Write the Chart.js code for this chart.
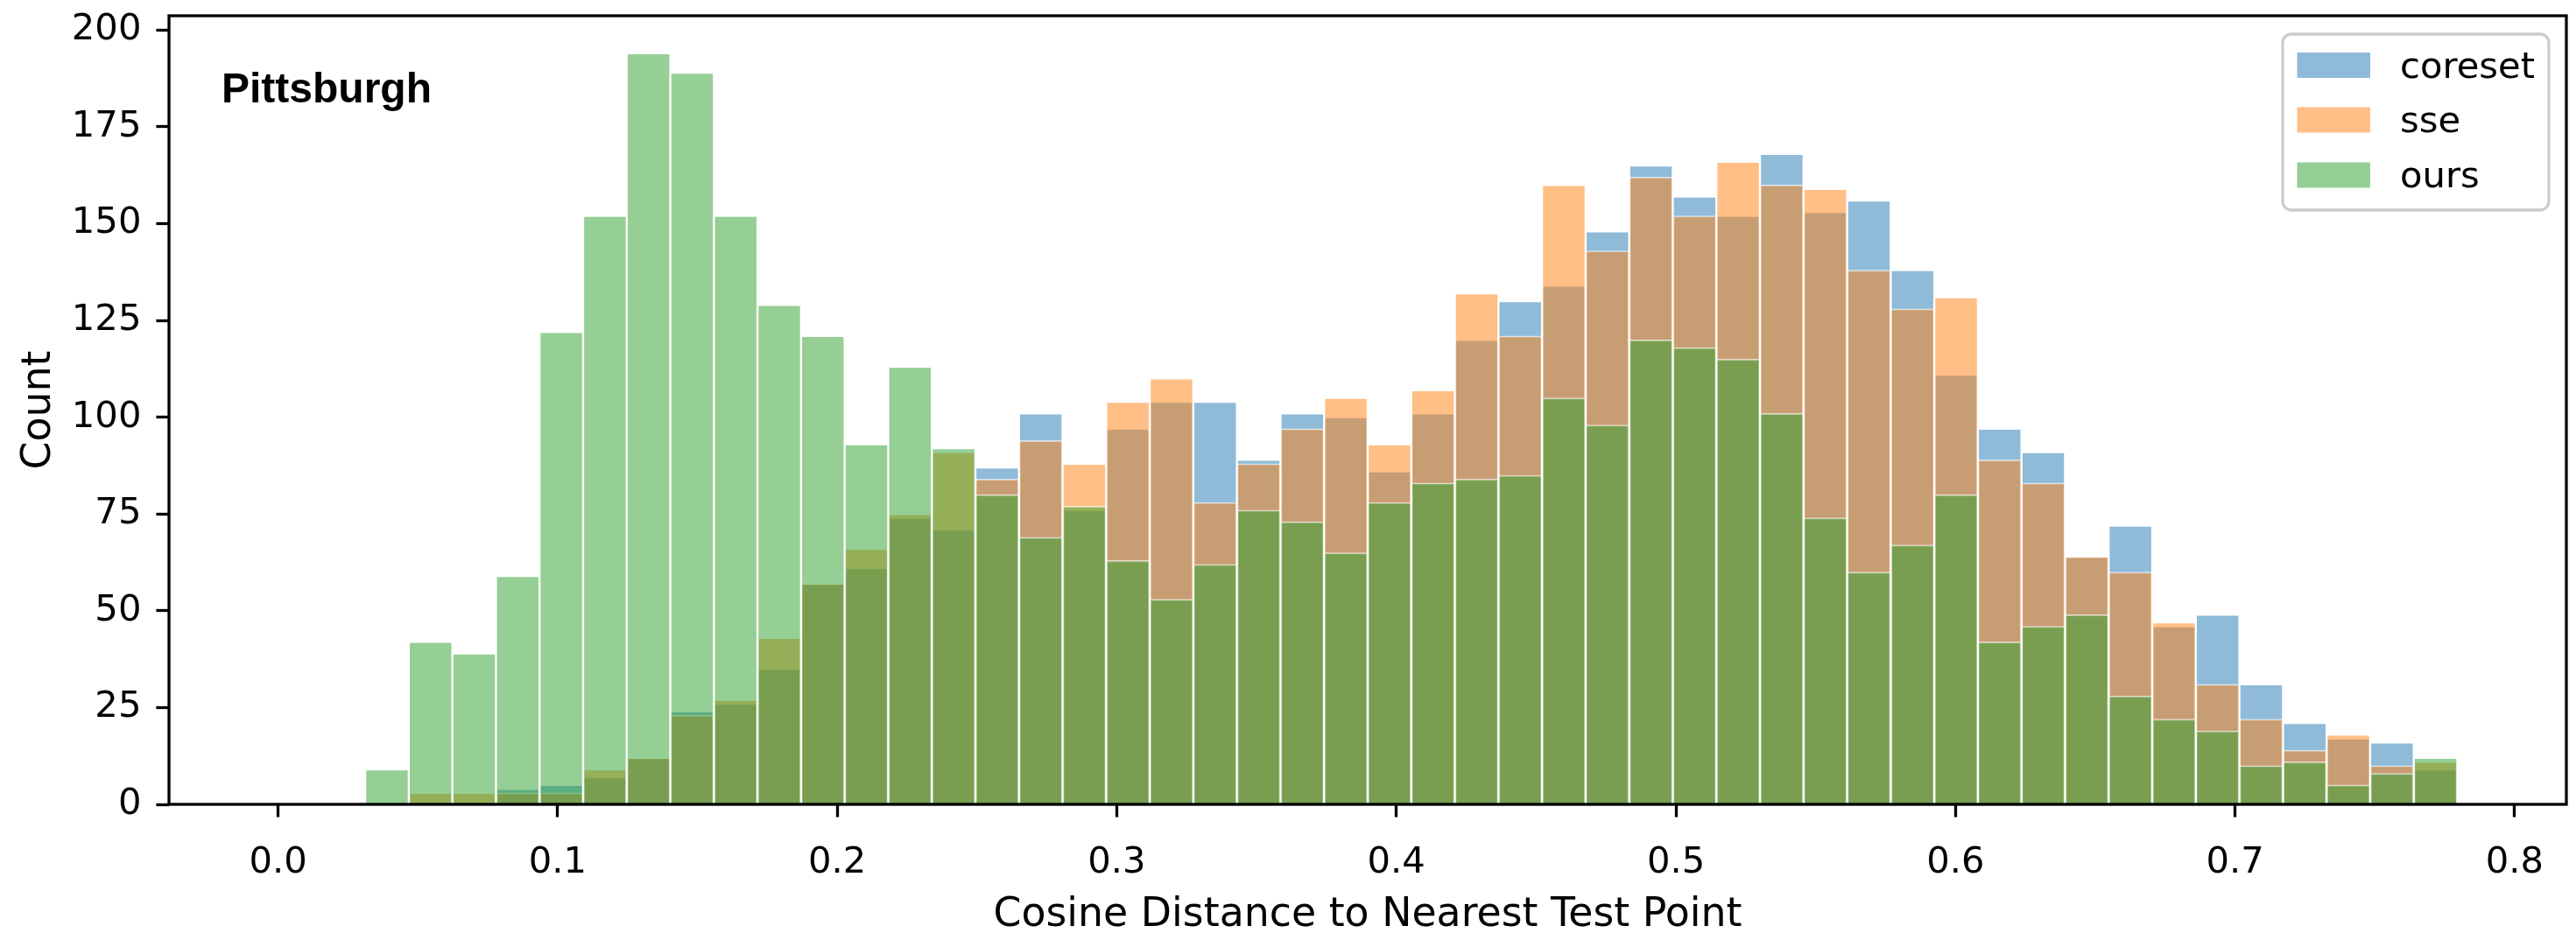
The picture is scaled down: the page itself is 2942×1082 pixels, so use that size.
<!DOCTYPE html>
<html>
<head>
<meta charset="utf-8">
<title>Pittsburgh - cosine distance histogram</title>
<script src="https://cdn.jsdelivr.net/npm/chart.js@4.4.1/dist/chart.umd.min.js"></script>
<style>
  html, body { margin: 0; padding: 0; background: #ffffff; }
  #wrap { width: 2942px; height: 1082px; }
</style>
</head>
<body>
<div id="wrap"><canvas id="histChart" width="2942" height="1082"></canvas></div>
<script>
// 50 equal bins from 0 to ~0.78
const binWidth = 0.01559;

const coreset = [
    0, 0, 0, 0, 0, 4, 5, 7, 12, 24,
    26, 35, 57, 61, 74, 71, 87, 101, 76, 97,
    104, 104, 89, 101, 100, 86, 101, 120, 130, 134,
    148, 165, 157, 152, 168, 153, 156, 138, 111, 97,
    91, 64, 72, 46, 49, 31, 21, 17, 16, 9
];
const sse = [
    0, 0, 0, 3, 3, 3, 3, 9, 12, 23,
    27, 43, 57, 66, 75, 91, 84, 94, 88, 104,
    110, 78, 88, 97, 105, 93, 107, 132, 121, 160,
    143, 162, 152, 166, 160, 159, 138, 128, 131, 89,
    83, 64, 60, 47, 31, 22, 14, 18, 10, 11
];
const ours = [
    0, 0, 9, 42, 39, 59, 122, 152, 194, 189,
    152, 129, 121, 93, 113, 92, 80, 69, 77, 63,
    53, 62, 76, 73, 65, 78, 83, 84, 85, 105,
    98, 120, 118, 115, 101, 74, 60, 67, 80, 42,
    46, 49, 28, 22, 19, 10, 11, 5, 8, 12
];

const seriesNames = ["coreset", "sse", "ours"];
const seriesColors = [
    "rgba(31, 119, 180, 0.5)",
    "rgba(255, 127, 14, 0.5)",
    "rgba(44, 160, 44, 0.5)"
];
const xTicks = [0, 0.1, 0.2, 0.3, 0.4, 0.5, 0.6, 0.7, 0.8];
const yTicks = [0, 25, 50, 75, 100, 125, 150, 175, 200];

const binCenters = coreset.map((_, i) => (i + 0.5) * binWidth);

const FONT = "DejaVu Sans";
const FS = 41.7;      // tick + legend text
const FS_LABEL = 45.8; // axis labels

function makeSet(idx, values) {
    return {
        label: seriesNames[idx],
        data: values.map((v, i) => ({ x: binCenters[i], y: v })),
        backgroundColor: seriesColors[idx],
        borderColor: "rgba(255, 255, 255, 0.6)",
        borderWidth: 1.5,
        borderSkipped: "start",
        grouped: false,
        categoryPercentage: 1.0,
        barPercentage: 1.0,
        order: 3 - idx   // coreset drawn first, ours on top
    };
}

// frame, legend box and the city label, drawn like matplotlib does
const decorPlugin = {
    id: "decor",
    afterDatasetsDraw(chart) {
        const { ctx, chartArea: a } = chart;
        ctx.save();
        ctx.strokeStyle = "#000";
        ctx.lineWidth = 3.3;
        ctx.strokeRect(a.left, a.top, a.right - a.left, a.bottom - a.top);
        ctx.restore();
    },
    afterDraw(chart) {
        const ctx = chart.ctx;
        ctx.save();

        ctx.fillStyle = "#000";
        ctx.font = "bold 48px 'Liberation Sans', Arial, sans-serif";
        ctx.textAlign = "left";
        ctx.textBaseline = "alphabetic";
        ctx.fillText("Pittsburgh", 253, 117);

        // legend
        const bx = 2607, by = 39, bw = 304, bh = 201, r = 10;
        ctx.beginPath();
        ctx.roundRect(bx, by, bw, bh, r);
        ctx.fillStyle = "rgba(255, 255, 255, 0.8)";
        ctx.fill();
        ctx.strokeStyle = "#cccccc";
        ctx.lineWidth = 3.3;
        ctx.stroke();

        const rowY = [74.5, 137, 200];
        ctx.font = FS + "px '" + FONT + "'";
        ctx.textBaseline = "middle";
        seriesNames.forEach((name, i) => {
            ctx.fillStyle = seriesColors[i];
            ctx.fillRect(2623.5, rowY[i] - 14.5, 83.5, 29);
            ctx.fillStyle = "#000";
            ctx.fillText(name, 2741, rowY[i] + 3.5);
        });
        ctx.restore();
    }
};

const tickFont = { family: FONT, size: FS };
const labelFont = { family: FONT, size: FS_LABEL };

new Chart(document.getElementById("histChart"), {
    type: "bar",
    data: {
        datasets: [makeSet(0, coreset), makeSet(1, sse), makeSet(2, ours)]
    },
    options: {
        responsive: false,
        devicePixelRatio: 1,
        animation: false,
        layout: { padding: { top: 18, right: 11, left: 0, bottom: 0 } },
        plugins: {
            legend: { display: false },
            tooltip: { enabled: false }
        },
        scales: {
            x: {
                type: "linear",
                min: -0.039,
                max: 0.8185,
                offset: false,
                afterBuildTicks: s => { s.ticks = xTicks.map(v => ({ value: v })); },
                afterFit: s => { s.height = 163; s.paddingLeft = 0; s.paddingRight = 0; },
                ticks: {
                    callback: v => v.toFixed(1),
                    font: tickFont,
                    color: "#000",
                    padding: 28,
                    maxRotation: 0,
                    autoSkip: false
                },
                grid: {
                    offset: false,
                    drawOnChartArea: false,
                    drawTicks: true,
                    tickLength: 14.6,
                    tickWidth: 3.3,
                    tickColor: "#000"
                },
                border: { display: false },
                title: {
                    display: true,
                    text: "Cosine Distance to Nearest Test Point",
                    font: labelFont,
                    color: "#000",
                    padding: { top: 0, bottom: 8 }
                }
            },
            y: {
                min: 0,
                max: 203.7,
                afterBuildTicks: s => { s.ticks = yTicks.map(v => ({ value: v })); },
                afterFit: s => { s.width = 193; s.paddingTop = 0; s.paddingBottom = 0; },
                ticks: {
                    callback: v => String(v),
                    font: tickFont,
                    color: "#000",
                    padding: 17
                },
                grid: {
                    drawOnChartArea: false,
                    drawTicks: true,
                    tickLength: 14.6,
                    tickWidth: 3.3,
                    tickColor: "#000"
                },
                border: { display: false },
                title: {
                    display: true,
                    text: "Count",
                    font: labelFont,
                    color: "#000",
                    padding: { top: 18, bottom: 0 }
                }
            }
        }
    },
    plugins: [decorPlugin]
});
</script>
</body>
</html>
